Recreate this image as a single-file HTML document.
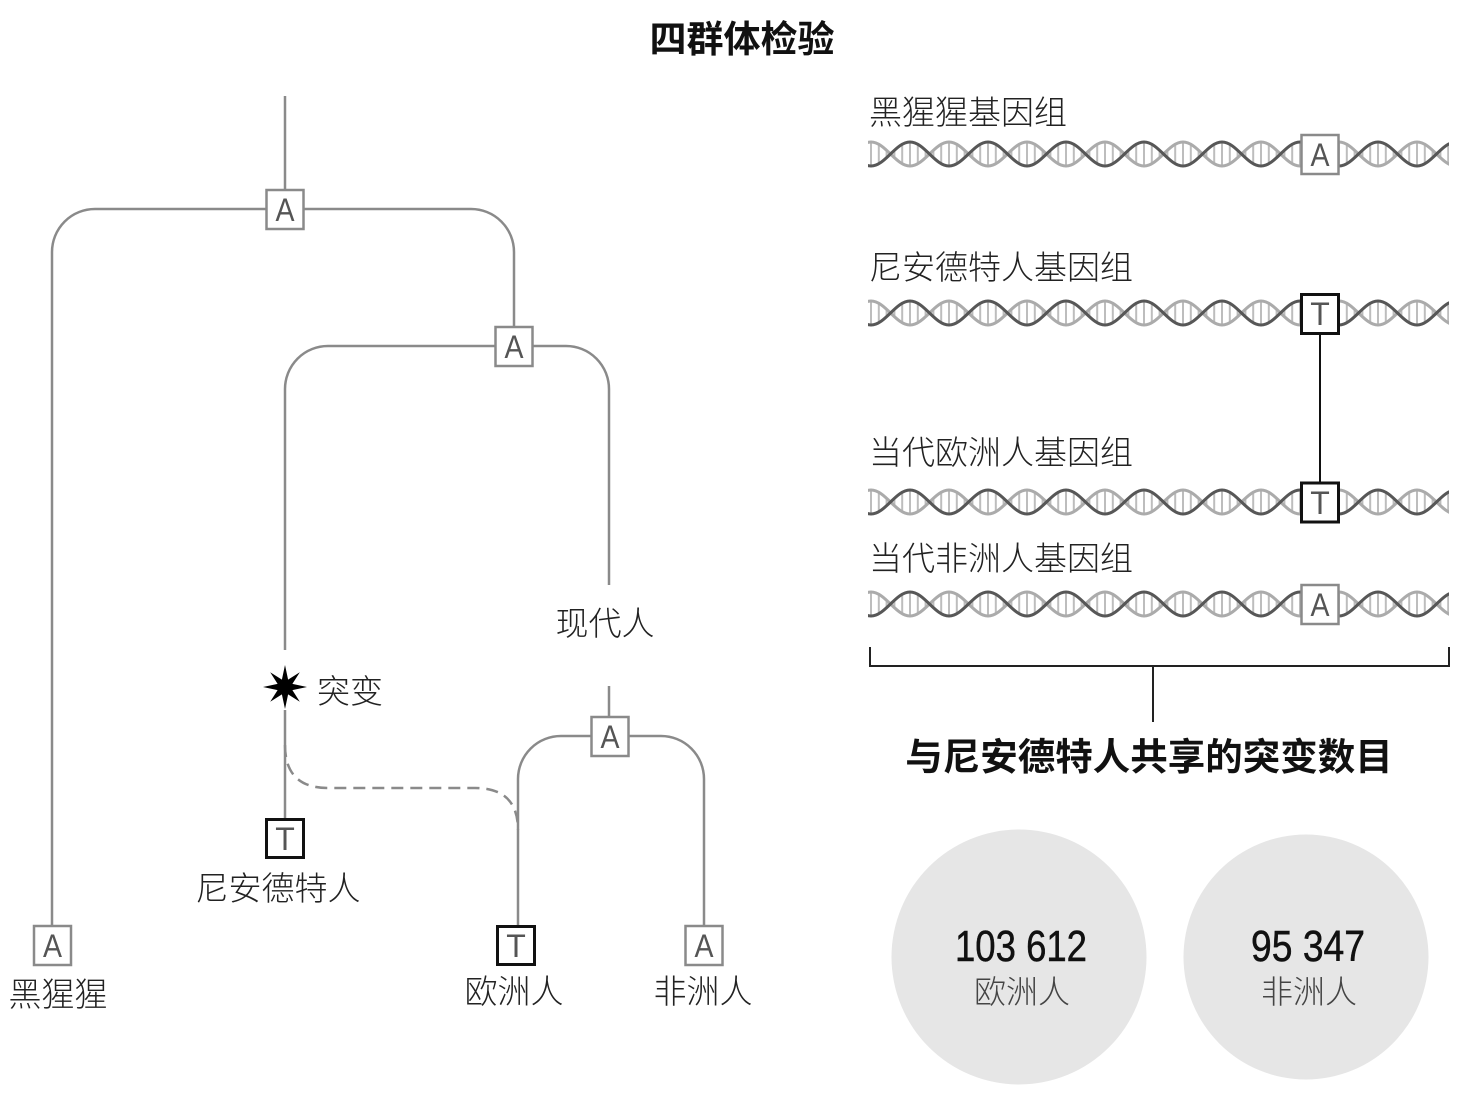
<!DOCTYPE html>
<html>
<head>
<meta charset="utf-8">
<style>
  html,body{margin:0;padding:0;background:#fff;}
  svg{display:block;}
  .cjk{font-family:"Liberation Sans","Noto Sans CJK SC",sans-serif;}
  .lbl{font-size:33px;font-weight:300;fill:#222;}
  .bold{font-weight:700;fill:#111;}
  .tree{fill:none;stroke:#8a8a8a;stroke-width:2.5;}
  .gbox{fill:#fff;stroke:#8a8a8a;stroke-width:2.5;}
  .bbox{fill:#fff;stroke:#111;stroke-width:3;}
  .let{font-family:"Liberation Sans",sans-serif;font-size:32px;fill:#555;}
</style>
</head>
<body>
<svg width="1471" height="1102" viewBox="0 0 1471 1102" xmlns="http://www.w3.org/2000/svg">
  <defs>
    <pattern id="dna" patternUnits="userSpaceOnUse" x="871" y="-20" width="78" height="40">
      <g stroke="#bdbdbd" stroke-width="2">
        <line x1="0" y1="8" x2="0" y2="32"/>
        <line x1="7.8" y1="10.3" x2="7.8" y2="29.7"/>
        <line x1="15.6" y1="15.5" x2="15.6" y2="24.5"/>
        <line x1="23.4" y1="15.5" x2="23.4" y2="24.5"/>
        <line x1="31.2" y1="10.3" x2="31.2" y2="29.7"/>
        <line x1="39" y1="8" x2="39" y2="32"/>
        <line x1="46.8" y1="10.3" x2="46.8" y2="29.7"/>
        <line x1="54.6" y1="15.5" x2="54.6" y2="24.5"/>
        <line x1="62.4" y1="15.5" x2="62.4" y2="24.5"/>
        <line x1="70.2" y1="10.3" x2="70.2" y2="29.7"/>
        <line x1="78" y1="8" x2="78" y2="32"/>
      </g>
      <path d="M0,8 C14.2,8 24.8,32 39,32 C53.2,32 63.8,8 78,8" fill="none" stroke="#ababab" stroke-width="3"/>
      <path d="M0,32 C14.2,32 24.8,8 39,8 C53.2,8 63.8,32 78,32" fill="none" stroke="#575757" stroke-width="3"/>
    </pattern>
  </defs>

  <!-- Title -->
  <text class="cjk bold" x="742" y="52" font-size="37" text-anchor="middle">四群体检验</text>

  <!-- ===== Tree ===== -->
  <path class="tree" d="M285,96 V190"/>
  <path class="tree" d="M52,926 V252 A43,43 0 0 1 95,209 H471 A43,43 0 0 1 514,252 V327"/>
  <path class="tree" d="M285,650 V389 A43,43 0 0 1 328,346 H566 A43,43 0 0 1 609,389 V585"/>
  <path class="tree" d="M609,686 V717"/>
  <path class="tree" d="M518,926 V779 A43,43 0 0 1 561,736 H661 A43,43 0 0 1 704,779 V926"/>
  <path class="tree" d="M285,710 V819"/>
  <path class="tree" d="M285,745 Q285,788 328,788 H475 Q518,788 518,830" stroke-dasharray="12 7"/>

  <!-- star -->
  <polygon fill="#000" points="285,665 288.1,679.6 299.8,672.2 292.4,683.9 307,687 292.4,690.1 299.8,701.8 288.1,694.4 285,709 281.9,694.4 270.2,701.8 277.6,690.1 263,687 277.6,683.9 270.2,672.2 281.9,679.6"/>
  <text class="cjk lbl" x="317" y="703">突变</text>

  <!-- tree boxes -->
  <rect class="gbox" x="266.5" y="190" width="37" height="39"/>
  <text class="let" x="285" y="221" text-anchor="middle" textLength="19" lengthAdjust="spacingAndGlyphs">A</text>

  <rect class="gbox" x="495.5" y="327" width="37" height="39"/>
  <text class="let" x="514" y="358" text-anchor="middle" textLength="19" lengthAdjust="spacingAndGlyphs">A</text>

  <rect class="gbox" x="591.5" y="717" width="37" height="39"/>
  <text class="let" x="610" y="748" text-anchor="middle" textLength="19" lengthAdjust="spacingAndGlyphs">A</text>

  <rect class="bbox" x="266.5" y="819.5" width="37" height="38"/>
  <text class="let" x="285" y="850" text-anchor="middle" fill="#444">T</text>

  <rect class="gbox" x="34" y="926" width="37" height="39"/>
  <text class="let" x="52.5" y="957" text-anchor="middle" textLength="19" lengthAdjust="spacingAndGlyphs">A</text>

  <rect class="bbox" x="497.5" y="926.5" width="37" height="38"/>
  <text class="let" x="516" y="957" text-anchor="middle" fill="#444">T</text>

  <rect class="gbox" x="685.5" y="926" width="37" height="39"/>
  <text class="let" x="704" y="957" text-anchor="middle" textLength="19" lengthAdjust="spacingAndGlyphs">A</text>

  <!-- tree labels -->
  <text class="cjk lbl" x="605" y="635" text-anchor="middle">现代人</text>
  <text class="cjk lbl" x="278" y="900" text-anchor="middle">尼安德特人</text>
  <text class="cjk lbl" x="58" y="1006" text-anchor="middle">黑猩猩</text>
  <text class="cjk lbl" x="514" y="1003" text-anchor="middle">欧洲人</text>
  <text class="cjk lbl" x="703" y="1003" text-anchor="middle">非洲人</text>

  <!-- ===== Genomes ===== -->
  <text class="cjk lbl" x="869" y="124">黑猩猩基因组</text>
  <g transform="translate(0,154)"><rect x="868" y="-20" width="581" height="40" fill="url(#dna)"/></g>
  <rect class="gbox" x="1301.5" y="135" width="37" height="39"/>
  <text class="let" x="1320" y="166" text-anchor="middle" textLength="19" lengthAdjust="spacingAndGlyphs">A</text>

  <text class="cjk lbl" x="869" y="279">尼安德特人基因组</text>
  <g transform="translate(0,313)"><rect x="868" y="-20" width="581" height="40" fill="url(#dna)"/></g>

  <text class="cjk lbl" x="869" y="464">当代欧洲人基因组</text>
  <g transform="translate(0,502)"><rect x="868" y="-20" width="581" height="40" fill="url(#dna)"/></g>

  <line x1="1320" y1="333" x2="1320" y2="483" stroke="#111" stroke-width="2"/>
  <rect class="bbox" x="1301.5" y="294.5" width="37" height="39"/>
  <text class="let" x="1320" y="325" text-anchor="middle" fill="#444">T</text>
  <rect class="bbox" x="1301.5" y="483" width="37" height="39"/>
  <text class="let" x="1320" y="514" text-anchor="middle" fill="#444">T</text>

  <text class="cjk lbl" x="869" y="570">当代非洲人基因组</text>
  <g transform="translate(0,604)"><rect x="868" y="-20" width="581" height="40" fill="url(#dna)"/></g>
  <rect class="gbox" x="1301.5" y="585" width="37" height="39"/>
  <text class="let" x="1320" y="616" text-anchor="middle" textLength="19" lengthAdjust="spacingAndGlyphs">A</text>

  <!-- bracket -->
  <path d="M870,647 V666 H1449 V647 M1153,666 V722" fill="none" stroke="#222" stroke-width="2"/>

  <text class="cjk bold" x="1149" y="770" font-size="37.5" text-anchor="middle">与尼安德特人共享的突变数目</text>

  <!-- circles -->
  <circle cx="1019" cy="957" r="127.5" fill="#e6e6e6"/>
  <circle cx="1306" cy="957" r="122.5" fill="#e6e6e6"/>

  <text x="1021" y="961" font-family="'Liberation Sans',sans-serif" font-size="44" fill="#111" stroke="#111" stroke-width="0.5" text-anchor="middle" textLength="132" lengthAdjust="spacingAndGlyphs">103 612</text>
  <text x="1308" y="961" font-family="'Liberation Sans',sans-serif" font-size="44" fill="#111" stroke="#111" stroke-width="0.5" text-anchor="middle" textLength="114" lengthAdjust="spacingAndGlyphs">95 347</text>

  <text class="cjk lbl" x="1022" y="1003" text-anchor="middle" style="fill:#444;font-size:32px">欧洲人</text>
  <text class="cjk lbl" x="1309" y="1003" text-anchor="middle" style="fill:#444;font-size:32px">非洲人</text>
</svg>
</body>
</html>
